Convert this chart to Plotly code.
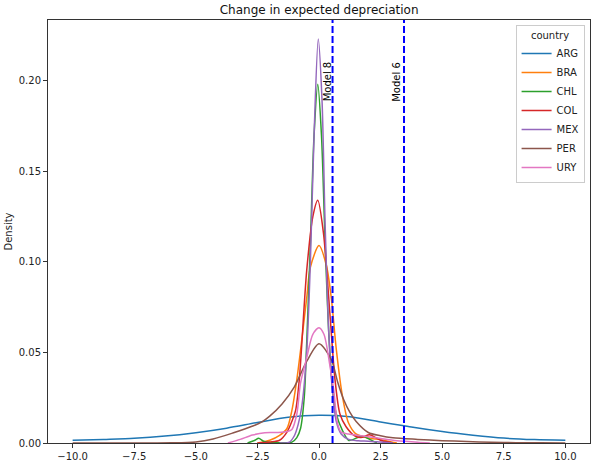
import plotly.graph_objects as go

# KDE curves
arg_x = [-10, -8.75, -7.5, -6.25, -5, -3.75, -2.5, -1.25, 0, 1.25, 2.5, 3.45, 3.75, 5, 6.25, 7.5, 8.75, 10]
arg_y = [0.0015, 0.002, 0.0026, 0.0038, 0.0057, 0.0082, 0.0113, 0.0142, 0.0153, 0.0145, 0.0116, 0.0095, 0.0088, 0.0063, 0.0043, 0.0027, 0.0019, 0.0015]

bra_x = [-2.5, -2.0, -1.6, -1.3, -1.1, -0.9, -0.75, -0.5, -0.35, 0.0, 0.3, 0.5, 0.7, 0.95, 1.2, 1.5, 1.8, 2.1, 2.5, 2.8, 3.16]
bra_y = [0.0, 0.0015, 0.0042, 0.008, 0.018, 0.035, 0.051, 0.08, 0.097, 0.109, 0.098, 0.08, 0.052, 0.026, 0.011, 0.005, 0.0035, 0.0025, 0.002, 0.001, 0.0]

chl_x = [-2.9, -2.6, -2.45, -2.25, -2.0, -1.5, -1.1, -0.9, -0.75, -0.6, -0.5, -0.35, -0.2, -0.05, 0.1, 0.25, 0.4, 0.55, 0.7, 0.95, 1.2, 1.4, 1.65, 1.85, 2.1, 2.35]
chl_y = [0.0, 0.0015, 0.0026, 0.001, 0.0003, 0.0002, 0.0005, 0.003, 0.008, 0.025, 0.055, 0.11, 0.17, 0.198, 0.17, 0.11, 0.06, 0.03, 0.016, 0.007, 0.0015, 0.002, 0.0035, 0.0035, 0.0017, 0.0]

col_x = [-2.5, -2.0, -1.6, -1.3, -1.1, -0.95, -0.8, -0.5, -0.25, -0.05, 0.18, 0.45, 0.65, 0.85, 1.1, 1.45, 1.7, 2.05, 2.3, 2.5, 3.0]
col_y = [0.0, 0.0005, 0.0015, 0.006, 0.012, 0.018, 0.035, 0.095, 0.125, 0.134, 0.116, 0.07, 0.035, 0.016, 0.009, 0.004, 0.003, 0.0045, 0.003, 0.0015, 0.0]

mex_x = [-1.6, -1.2, -1.0, -0.85, -0.7, -0.5, -0.35, -0.2, -0.03, 0.12, 0.25, 0.4, 0.55, 0.7, 0.9, 1.2, 1.6, 2.0, 2.5, 3.0]
mex_y = [0.0, 0.0005, 0.004, 0.01, 0.02, 0.05, 0.1, 0.17, 0.223, 0.19, 0.12, 0.06, 0.028, 0.012, 0.005, 0.002, 0.0012, 0.001, 0.0005, 0.0]

per_x = [-10, -8, -6, -5, -4.3, -3.5, -2.66, -2.3, -2.0, -1.5, -1.0, -0.5, 0.0, 0.5, 0.75, 1.0, 1.25, 1.5, 2.0, 2.5, 3.0, 4.0, 5.0, 6.0, 7.0, 8.0, 9.0, 10]
per_y = [0.0, 0.0, 0.0001, 0.0006, 0.0022, 0.0055, 0.0095, 0.0118, 0.0148, 0.0215, 0.031, 0.045, 0.0548, 0.046, 0.034, 0.024, 0.017, 0.012, 0.0058, 0.004, 0.0029, 0.002, 0.0013, 0.0008, 0.0004, 0.0002, 0.0001, 0.0]

ury_x = [-3.7, -3.2, -2.7, -2.2, -1.7, -1.3, -1.1, -0.9, -0.75, -0.5, -0.25, 0.0, 0.2, 0.45, 0.6, 0.75, 0.9, 1.2, 1.6, 2.0, 2.5, 3.0, 3.5, 4.0, 4.5]
ury_y = [0.0, 0.002, 0.0044, 0.0057, 0.0058, 0.0063, 0.0075, 0.016, 0.033, 0.047, 0.06, 0.0636, 0.06, 0.042, 0.029, 0.011, 0.006, 0.005, 0.0042, 0.0035, 0.0025, 0.0015, 0.0009, 0.0004, 0.0]

countries = ['ARG', 'BRA', 'CHL', 'COL', 'MEX', 'PER', 'URY']
curves_x = [arg_x, bra_x, chl_x, col_x, mex_x, per_x, ury_x]
curves_y = [arg_y, bra_y, chl_y, col_y, mex_y, per_y, ury_y]
colors = ['#1f77b4', '#ff7f0e', '#2ca02c', '#d62728', '#9467bd', '#8c564b', '#e377c2']

model_names = ['Model 8', 'Model 6']
model_pos = [0.55, 3.45]
label_height = 0.19

fig = go.Figure()
for name, xs, ys, c in zip(countries, curves_x, curves_y, colors):
    fig.add_trace(go.Scatter(x=xs, y=ys, mode='lines', name=name,
                             line=dict(color=c, width=1.5, shape='spline', smoothing=0.8)))

for name, pos, shift in zip(model_names, model_pos, [-5, -7]):
    fig.add_shape(type='line', xref='x', yref='paper', x0=pos, x1=pos, y0=0, y1=1,
                  line=dict(color='blue', width=2, dash='7px,3px'))
    fig.add_annotation(x=pos, y=label_height, xref='x', yref='y', text=name, textangle=-90,
                       showarrow=False, xanchor='center', yanchor='bottom',
                       xshift=shift, yshift=-5, font=dict(size=10, color='black'))

axis_style = dict(showline=True, mirror=True, linecolor='#333', linewidth=1,
                  ticks='outside', ticklen=4, tickcolor='#333', showgrid=False,
                  zeroline=False, tickfont=dict(size=10, color='#222'))

fig.update_layout(
    width=591, height=464,
    margin=dict(l=48, r=1, t=20, b=21),
    paper_bgcolor='white', plot_bgcolor='white',
    font=dict(family='DejaVu Sans', size=10, color='#222'),
    title=dict(text='Change in expected depreciation', x=0.54, xanchor='center',
               y=0.978, yanchor='middle', font=dict(size=12, color='#111')),
    legend=dict(title=dict(text='country', side='top center', font=dict(size=10)),
                x=0.99, y=0.988, xanchor='right', yanchor='top', bgcolor='white',
                bordercolor='#ccc', borderwidth=1, font=dict(size=10),
                itemwidth=30, tracegroupgap=0),
    showlegend=True,
)
fig.update_xaxes(range=[-11, 11], tickvals=[-10, -7.5, -5, -2.5, 0, 2.5, 5, 7.5, 10],
                 tickformat='.1f', **axis_style)
fig.update_yaxes(range=[0, 0.2335], tickvals=[0, 0.05, 0.1, 0.15, 0.2], tickformat='.2f',
                 title=dict(text='Density', standoff=4, font=dict(size=10)), **axis_style)

fig.write_html('out.html', config={'displayModeBar': False},
               post_script="document.body.style.margin='0';")
